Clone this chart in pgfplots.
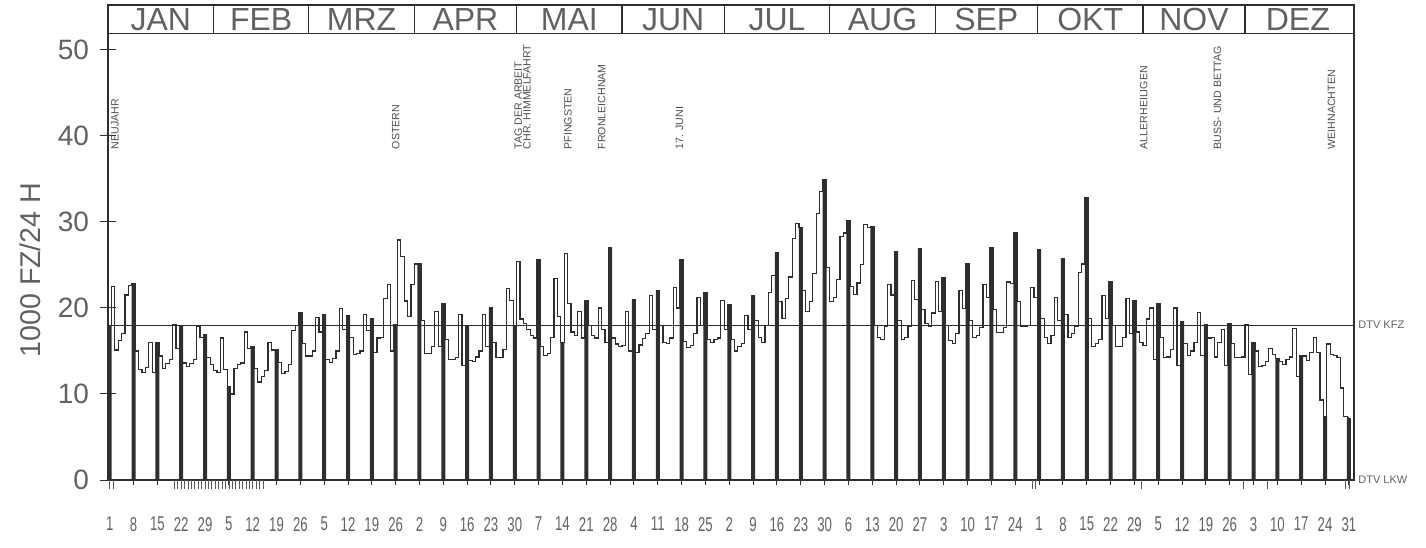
\documentclass[border=0pt]{standalone}
\usepackage{fontspec}
\setmainfont{Liberation Sans}
\newfontfamily\narrow[FakeStretch=0.66]{Liberation Sans}
\usepackage{pgfplots}
\usepackage{pgfplotstable}
\pgfplotsset{compat=1.18}
\definecolor{ink}{gray}{0.18}
\definecolor{txt}{gray}{0.38}

% daily values (1000 vehicles / 24 h), day of year 1978, Jan 1 = Sunday
\pgfplotstableread[row sep=\\]{
d v\\
1 18\\
2 22.5\\ 3 15.1\\ 4 16.2\\ 5 17\\ 6 21.5\\ 7 22.6\\ 8 22.8\\
9 15\\ 10 12.8\\ 11 12.5\\ 12 13.1\\ 13 16\\ 14 12.5\\ 15 16\\
16 14.4\\ 17 13\\ 18 13.5\\ 19 14\\ 20 18.1\\ 21 15.3\\ 22 17.9\\
23 13.6\\ 24 13.2\\ 25 13.5\\ 26 14\\ 27 17.8\\ 28 16.6\\ 29 16.9\\
30 14.2\\ 31 13.4\\ 32 12.7\\ 33 12.5\\ 34 16.5\\ 35 12.8\\ 36 10.9\\
37 10\\ 38 13\\ 39 13.4\\ 40 13.6\\ 41 17.2\\ 42 15.3\\ 43 15.5\\
44 13\\ 45 11.4\\ 46 12\\ 47 12.7\\ 48 16\\ 49 15.1\\ 50 15.1\\
51 13.7\\ 52 12.4\\ 53 12.6\\ 54 13.4\\ 55 17.4\\ 56 18\\ 57 19.4\\
58 15.9\\ 59 14.4\\ 60 14.4\\ 61 15\\ 62 18.9\\ 63 17.2\\ 64 19.2\\
65 14\\ 66 13.7\\ 67 14.1\\ 68 15\\ 69 19.9\\ 70 17.5\\ 71 19.1\\
72 16.6\\ 73 14.6\\ 74 14.7\\ 75 15\\ 76 19.2\\ 77 17.4\\ 78 18.8\\
79 14.8\\ 80 16.5\\ 81 16.6\\ 82 21.1\\ 83 22.7\\ 84 15\\ 85 18.1\\
86 27.9\\ 87 26\\ 88 20.8\\ 89 19\\ 90 22.7\\ 91 25.1\\ 92 25.1\\
93 18.5\\ 94 14.7\\ 95 14.7\\ 96 15.5\\ 97 19.6\\ 98 15.5\\ 99 20.5\\
100 16.3\\ 101 14\\ 102 14\\ 103 14.2\\ 104 19.2\\ 105 13.3\\ 106 17.9\\
107 13.9\\ 108 13.8\\ 109 14.3\\ 110 15\\ 111 19.2\\ 112 15.5\\ 113 20\\
114 16\\ 115 14.2\\ 116 14.2\\ 117 15.2\\ 118 22.3\\ 119 20.9\\ 120 18\\
121 25.4\\ 122 18.7\\ 123 18.2\\ 124 17.5\\ 125 16.8\\ 126 16.5\\ 127 25.6\\
128 15.5\\ 129 14.5\\ 130 14.7\\ 131 16.6\\ 132 23.4\\ 133 19\\ 134 16\\
135 26.3\\ 136 20.5\\ 137 17.2\\ 138 16.8\\ 139 19.6\\ 140 16.5\\ 141 20.8\\
142 18\\ 143 16.8\\ 144 16.5\\ 145 20\\ 146 17.5\\ 147 16\\ 148 27\\
149 16.5\\ 150 15.8\\ 151 15.5\\ 152 15.6\\ 153 19.6\\ 154 15\\ 155 21\\
156 14.8\\ 157 15.7\\ 158 16.4\\ 159 17\\ 160 21.4\\ 161 17.5\\ 162 22\\
163 18\\ 164 16\\ 165 15.9\\ 166 16.5\\ 167 22.4\\ 168 20\\ 169 25.6\\
170 16.1\\ 171 15.4\\ 172 15.6\\ 173 17\\ 174 21.2\\ 175 18\\ 176 21.8\\
177 16.3\\ 178 16\\ 179 16.3\\ 180 16.5\\ 181 20.9\\ 182 17.5\\ 183 20.4\\
184 16.3\\ 185 15\\ 186 15.5\\ 187 15.9\\ 188 19.1\\ 189 17.5\\ 190 21.4\\
191 18.5\\ 192 16.6\\ 193 16\\ 194 18\\ 195 21.8\\ 196 23.8\\ 197 26.4\\
198 20.7\\ 199 18.8\\ 200 21.1\\ 201 23.6\\ 202 28.1\\ 203 29.8\\ 204 29.3\\
205 22\\ 206 19.6\\ 207 20.7\\ 208 24\\ 209 31\\ 210 33.5\\ 211 34.9\\
212 24.7\\ 213 20.7\\ 214 21.2\\ 215 23.3\\ 216 28.3\\ 217 28.7\\ 218 30.1\\
219 22.5\\ 220 21.6\\ 221 22.9\\ 222 25\\ 223 29.7\\ 224 29.3\\ 225 29.4\\
226 18\\ 227 16.6\\ 228 16.3\\ 229 17.9\\ 230 22.7\\ 231 21.5\\ 232 26.5\\
233 18.5\\ 234 16.3\\ 235 16.6\\ 236 17.8\\ 237 23.2\\ 238 21\\ 239 26.9\\
240 19.8\\ 241 18.2\\ 242 17.9\\ 243 19.4\\ 244 23.1\\ 245 19.6\\ 246 23.5\\
247 18\\ 248 16.2\\ 249 15.9\\ 250 17\\ 251 22\\ 252 19.9\\ 253 25.2\\
254 18.5\\ 255 16.6\\ 256 16.8\\ 257 17.7\\ 258 22.7\\ 259 21.2\\ 260 27\\
261 19.8\\ 262 17.1\\ 263 17.1\\ 264 17.7\\ 265 23\\ 266 22.8\\ 267 28.7\\
268 20.7\\ 269 17.9\\ 270 17.9\\ 271 18\\ 272 22.4\\ 273 21.2\\ 274 26.8\\
275 18.8\\ 276 16.6\\ 277 15.9\\ 278 16.8\\ 279 21.2\\ 280 18.5\\ 281 25.7\\
282 19.2\\ 283 16.6\\ 284 17\\ 285 17.9\\ 286 24.1\\ 287 25.1\\ 288 32.8\\
289 18.8\\ 290 15.5\\ 291 15.9\\ 292 16.3\\ 293 21.4\\ 294 18.8\\ 295 23\\
296 18\\ 297 15.5\\ 298 15.5\\ 299 16.6\\ 300 21.1\\ 301 17\\ 302 20.8\\
303 17.2\\ 304 16\\ 305 15.6\\ 306 18.7\\ 307 20\\ 308 14\\ 309 20.5\\
310 16.6\\ 311 14.2\\ 312 14.3\\ 313 15.2\\ 314 20\\ 315 13.3\\ 316 18.4\\
317 15.9\\ 318 14.5\\ 319 15\\ 320 16\\ 321 19.5\\ 322 14.5\\ 323 18.1\\
324 16.5\\ 325 16.6\\ 326 14.3\\ 327 16\\ 328 17.5\\ 329 13.3\\ 330 18.2\\
331 15.9\\ 332 14.2\\ 333 14.2\\ 334 14.3\\ 335 18.1\\ 336 12.3\\ 337 16\\
338 15\\ 339 13.2\\ 340 13.3\\ 341 13.8\\ 342 15.3\\ 343 14.6\\ 344 14.1\\
345 13.8\\ 346 13.4\\ 347 14\\ 348 14.3\\ 349 17.6\\ 350 12\\ 351 14.5\\
352 14.4\\ 353 13.9\\ 354 14.8\\ 355 16.6\\ 356 14.8\\ 357 9.3\\ 358 7.4\\
359 15.8\\ 360 14.6\\ 361 14.5\\ 362 14.2\\ 363 10.7\\ 364 7.4\\ 365 7.2\\
}\daily

% Sundays (dark bars)
\pgfplotstableread[row sep=\\]{
d v\\
1 18\\ 8 22.8\\ 15 16\\ 22 17.9\\ 29 16.9\\ 36 10.9\\ 43 15.5\\ 50 15.1\\ 57 19.4\\
64 19.2\\ 71 19.1\\ 78 18.8\\ 85 18.1\\ 92 25.1\\ 99 20.5\\ 106 17.9\\ 113 20\\ 120 18\\
127 25.6\\ 134 16\\ 141 20.8\\ 148 27\\ 155 21\\ 162 22\\ 169 25.6\\ 176 21.8\\
183 20.4\\ 190 21.4\\ 197 26.4\\ 204 29.3\\ 211 34.9\\ 218 30.1\\ 225 29.4\\ 232 26.5\\ 239 26.9\\
246 23.5\\ 253 25.2\\ 260 27\\ 267 28.7\\ 274 26.8\\ 281 25.7\\ 288 32.8\\ 295 23\\ 302 20.8\\
309 20.5\\ 316 18.4\\ 323 18.1\\ 330 18.2\\ 337 16\\ 344 14.1\\ 351 14.5\\ 358 7.4\\ 365 7.2\\
}\sundays

\tikzset{mon/.style={font=\fontsize{16}{16}\selectfont, text=txt, inner sep=0pt},
         hol/.style={rotate=90, anchor=west, font=\fontsize{5.3}{5.3}\selectfont, text=ink!85, inner sep=0pt}}

\begin{document}
\begin{tikzpicture}
\path[use as bounding box] (-54pt,-33.5pt) rectangle (659pt,240pt);
\begin{axis}[
  at={(0,0)}, anchor=south west, scale only axis,
  width=623pt, height=237.5pt,
  xmin=0.5, xmax=366.5, ymin=0, ymax=55.2,
  clip=false,
  axis line style={ink, line width=0.6pt},
  xtick={1,8,...,365},
  xticklabels={1,8,15,22,29,5,12,19,26,5,12,19,26,2,9,16,23,30,7,14,21,28,4,11,18,25,2,9,16,23,30,6,13,20,27,3,10,17,24,1,8,15,22,29,5,12,19,26,3,10,17,24,31},
  xtick style={draw=none},
  ytick={0,10,20,30,40,50},
  ytick pos=left, ytick align=center,
  major tick length=8pt,
  ytick style={ink, line width=0.5pt},
  x tick label style={font=\narrow\fontsize{10}{10}\selectfont, text=txt, anchor=north, yshift=-15pt},
  y tick label style={font=\fontsize{14}{15}\selectfont, text=txt, anchor=east, xshift=-2pt},
  /pgf/number format/assume math mode=true,
]
% daily step line
\addplot[const plot mark mid, ink, line width=0.6pt, no marks] table[x=d,y=v]{\daily};
% Sunday bars
\addplot[ybar, bar width=2pt, fill=ink, draw=none] table[x=d,y=v]{\sundays};
% DTV KFZ reference line
\addplot[ink, line width=0.6pt, no marks] coordinates {(0.5,18) (366.5,18)};
% Sunday marks below axis
\addplot[ycomb, ink, line width=0.5pt, no marks] table[x=d, y expr=-0.6]{\sundays};
% small marks below axis
\addplot[ycomb, ink!80, line width=0.35pt, no marks] coordinates {
(1,-1.1) (2,-1.1) (20,-1.1) (21,-1.1) (22,-1.1) (23,-1.1) (24,-1.1) (25,-1.1) (26,-1.1) (27,-1.1)
(28,-1.1) (29,-1.1) (30,-1.1) (31,-1.1) (32,-1.1) (33,-1.1) (34,-1.1) (35,-1.1) (36,-1.1) (37,-1.1)
(38,-1.1) (39,-1.1) (40,-1.1) (41,-1.1) (42,-1.1) (43,-1.1) (44,-1.1) (45,-1.1) (46,-1.1)
(272,-1.1) (273,-1.1) (304,-1.1) (334,-1.1) (341,-1.1) (364,-1.1) (365,-1.1)};
% month header
\draw[ink, line width=0.6pt] (axis cs:0.5,51.9) -- (axis cs:366.5,51.9);
\pgfplotsinvokeforeach{31.5,59.5,90.5,120.5,151.5,181.5,212.5,243.5,273.5,304.5,334.5}{
  \draw[ink, line width=0.6pt] (axis cs:#1,51.9) -- (axis cs:#1,55.2);
}
\node[mon] at (axis cs:16,53.55) {JAN};
\node[mon] at (axis cs:45.5,53.55) {FEB};
\node[mon] at (axis cs:75,53.55) {MRZ};
\node[mon] at (axis cs:105.5,53.55) {APR};
\node[mon] at (axis cs:136,53.55) {MAI};
\node[mon] at (axis cs:166.5,53.55) {JUN};
\node[mon] at (axis cs:197,53.55) {JUL};
\node[mon] at (axis cs:228,53.55) {AUG};
\node[mon] at (axis cs:258.5,53.55) {SEP};
\node[mon] at (axis cs:289,53.55) {OKT};
\node[mon] at (axis cs:319.5,53.55) {NOV};
\node[mon] at (axis cs:350,53.55) {DEZ};
% holiday labels
\node[hol] at (axis cs:2.6,38.4) {NEUJAHR};
\node[hol] at (axis cs:85,38.4) {OSTERN};
\node[hol] at (axis cs:121,38.4) {TAG DER ARBEIT};
\node[hol] at (axis cs:123.6,38.4) {CHR. HIMMELFAHRT};
\node[hol] at (axis cs:135.6,38.4) {PFINGSTEN};
\node[hol] at (axis cs:145.5,38.4) {FRONLEICHNAM};
\node[hol] at (axis cs:168.4,38.4) {17. JUNI};
\node[hol] at (axis cs:304.7,38.4) {ALLERHEILIGEN};
\node[hol] at (axis cs:326.4,38.4) {BUSS- UND BETTAG};
\node[hol] at (axis cs:359.9,38.4) {WEIHNACHTEN};
% right labels
\node[xshift=2pt, anchor=west, font=\fontsize{5.5}{6}\selectfont, text=txt, inner sep=0pt] at (axis cs:366.5,18) {DTV KFZ};
\node[xshift=2pt, anchor=west, font=\fontsize{5.5}{6}\selectfont, text=txt, inner sep=0pt] at (axis cs:366.5,0) {DTV LKW};
% y label
\node[xshift=-39pt, rotate=90, font=\fontsize{14.3}{15}\selectfont, text=txt] at (rel axis cs:0,0.442) {1000 FZ/24 H};
\end{axis}
\end{tikzpicture}
\end{document}
